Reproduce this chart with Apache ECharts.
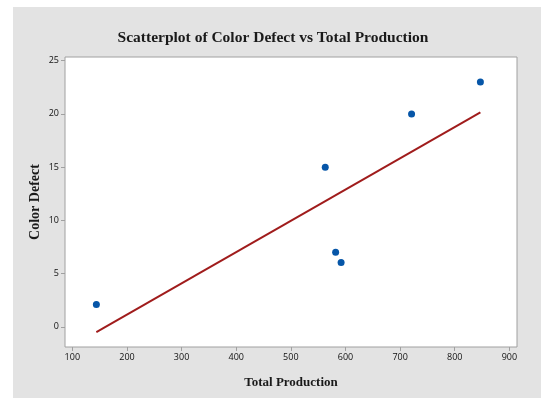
<!DOCTYPE html>
<html><head><meta charset="utf-8">
<script src="https://cdn.jsdelivr.net/npm/echarts@6/dist/echarts.min.js"></script>
<style>html,body{margin:0;padding:0;background:#fff}#c{width:541px;height:398px}</style>
</head><body><div id="c"></div>
<script>
const totalProduction = [144, 563, 582, 592, 721, 847];
const colorDefect = [2.1, 15.0, 7.0, 6.05, 20.0, 23.0];
const fitX = [144, 847];
const fitY = [-0.5, 20.15];
const xTicks = [100, 200, 300, 400, 500, 600, 700, 800, 900];
const yTicks = [0, 5, 10, 15, 20, 25];

const chart = echarts.init(document.getElementById('c'), null, {renderer: 'canvas'});
const serif = 'Liberation Serif';
const sans = 'Open Sans';
chart.setOption({
  animation: false,
  backgroundColor: '#ffffff',
  graphic: [{type: 'rect', z: -10, shape: {x: 13, y: 7, width: 528, height: 391}, style: {fill: '#e3e3e3'}}],
  title: {
    text: 'Scatterplot of Color Defect vs Total Production',
    left: 268, top: 25, textAlign: 'center',
    textStyle: {fontFamily: serif, fontWeight: 'bold', fontSize: 15.5, color: '#1a1a1a'}
  },
  grid: {left: 65, top: 57, right: 24, bottom: 51, show: true, backgroundColor: '#ffffff', borderColor: '#a0a0a0', borderWidth: 1},
  xAxis: {
    type: 'value', min: 86.6, max: 914,
    name: 'Total Production', nameLocation: 'middle', nameGap: 29, nameMoveOverlap: false,
    nameTextStyle: {fontFamily: serif, fontWeight: 'bold', fontSize: 13, color: '#1a1a1a', verticalAlign: 'top'},
    axisLine: {show: false, onZero: false},
    axisTick: {show: true, length: 4, lineStyle: {color: '#a0a0a0'}, customValues: xTicks},
    axisLabel: {fontFamily: sans, fontSize: 9, color: '#111', margin: 6, customValues: xTicks},
    splitLine: {show: false}
  },
  yAxis: {
    type: 'value', min: -1.9, max: 25.35,
    name: 'Color Defect', nameLocation: 'middle', nameGap: 23, nameRotate: 90, nameMoveOverlap: false,
    nameTextStyle: {fontFamily: serif, fontWeight: 'bold', fontSize: 14, color: '#1a1a1a'},
    axisLine: {show: false, onZero: false},
    axisTick: {show: true, length: 4, lineStyle: {color: '#a0a0a0'}, customValues: yTicks},
    axisLabel: {fontFamily: sans, fontSize: 9, color: '#111', margin: 6, customValues: yTicks},
    splitLine: {show: false}
  },
  series: [
    {type: 'line', data: fitX.map((x, i) => [x, fitY[i]]), symbol: 'none', lineStyle: {color: '#a01c1c', width: 2}, z: 2},
    {type: 'scatter', data: totalProduction.map((x, i) => [x, colorDefect[i]]), symbol: 'circle', symbolSize: 7, itemStyle: {color: '#0656a8', opacity: 1}, z: 3}
  ]
});
</script></body></html>
